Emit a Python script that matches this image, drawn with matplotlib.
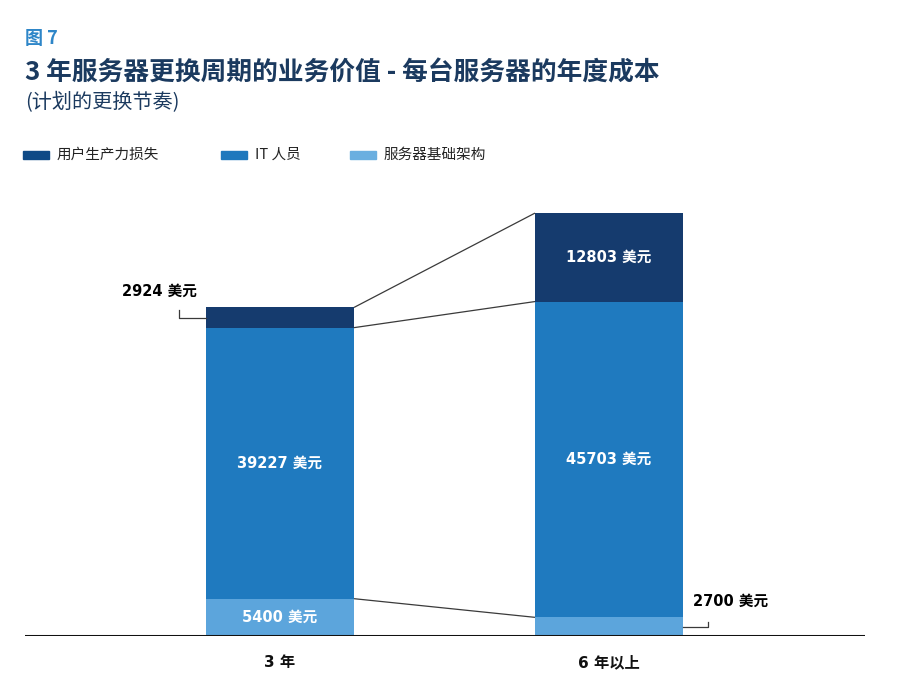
import matplotlib
matplotlib.use("Agg")
import matplotlib.pyplot as plt
from matplotlib.patches import Rectangle

plt.rcParams['font.family'] = ['Noto Sans CJK SC', 'DejaVu Sans']

# ---- data ----
categories = ["3 年", "6 年以上"]
infra = [5400, 2700]            # 服务器基础架构
it_staff = [39227, 45703]       # IT 人员
productivity = [2924, 12803]    # 用户生产力损失
legend_labels = ["用户生产力损失", "IT 人员", "服务器基础架构"]
unit = "美元"

# ---- style ----
c_dark = "#153b6e"
c_mid = "#1f7abf"
c_light = "#5ca5dc"
leg_dark = "#0f4a86"
leg_mid = "#1f78bd"
leg_light = "#6aafe0"
title_color = "#1b3a5f"
num_font = ['DejaVu Sans', 'Noto Sans CJK SC']

W, H = 900, 691
fig = plt.figure(figsize=(W / 100, H / 100), dpi=100)
ax_l, ax_r, ax_b, ax_t = 25, 865, 636, 200
ax = fig.add_axes([ax_l / W, 1 - ax_b / H, (ax_r - ax_l) / W, (ax_b - ax_t) / H])
xlim = (-0.775, 1.778)
ylim = (0, 63100)
ax.set_xlim(*xlim)
ax.set_ylim(*ylim)
for s in ax.spines.values():
    s.set_visible(False)
ax.set_xticks([])
ax.set_yticks([])

px_x = (xlim[1] - xlim[0]) / (ax_r - ax_l)   # data units per pixel (x)
px_y = (ylim[1] - ylim[0]) / (ax_b - ax_t)   # data units per pixel (y)

x = [0, 1]
bw = 0.45
ax.bar(x, infra, width=bw, color=c_light, linewidth=0)
ax.bar(x, it_staff, width=bw, bottom=infra, color=c_mid, linewidth=0)
bottom3 = [a + b for a, b in zip(infra, it_staff)]
ax.bar(x, productivity, width=bw, bottom=bottom3, color=c_dark, linewidth=0)
tops = [a + b for a, b in zip(bottom3, productivity)]

# connector lines between bars
for ys in (infra, bottom3, tops):
    ax.plot([x[0] + bw / 2, x[1] - bw / 2], [ys[0], ys[1]], color="#3a3a3a", lw=0.9,
            solid_capstyle="butt", zorder=1)

# baseline
ax.axhline(0, color="#111111", lw=2.2, zorder=3)

# labels inside bars
lab_kw = dict(ha="center", va="center", color="white", fontsize=10.5, fontweight="bold",
              family=num_font)
ax.text(x[0], infra[0] / 2, f"{infra[0]} {unit}", **lab_kw)
ax.text(x[0], infra[0] + it_staff[0] / 2, f"{it_staff[0]} {unit}", **lab_kw)
ax.text(x[1], infra[1] + it_staff[1] / 2, f"{it_staff[1]} {unit}", **lab_kw)
ax.text(x[1], bottom3[1] + productivity[1] / 2, f"{productivity[1]} {unit}", **lab_kw)

out_kw = dict(va="center", color="black", fontsize=10.5, fontweight="bold", family=num_font)

# outside label: 3-year productivity
ax0 = x[0] - bw / 2
ay0 = bottom3[0] + productivity[0] / 2
ax.plot([ax0, ax0 - 26.5 * px_x, ax0 - 26.5 * px_x],
        [ay0, ay0, ay0 + 8 * px_y], color="#3a3a3a", lw=0.9)
ax.text(ax0 - 9 * px_x, ay0 + 26 * px_y, f"{productivity[0]} {unit}", ha="right", **out_kw)

# outside label: 6-year infra
ax1 = x[1] + bw / 2
ay1 = infra[1] / 2
ax.plot([ax1, ax1 + 25 * px_x, ax1 + 25 * px_x],
        [ay1, ay1, ay1 + 5 * px_y], color="#3a3a3a", lw=0.9)
ax.text(ax1 + 10 * px_x, ay1 + 25 * px_y, f"{infra[1]} {unit}", ha="left", **out_kw)

# category labels
for xi, c in zip(x, categories):
    ax.text(xi, -27 * px_y, c, ha="center", va="center", fontsize=11,
            fontweight="bold", color="#111111", clip_on=False, family=num_font)

# titles
fig.text(25 / W, 1 - 39 / H, "图 7", ha="left", va="center", fontsize=13,
         fontweight="bold", color="#2e86c8")
fig.text(25 / W, 1 - 73 / H, "3 年服务器更换周期的业务价值 - 每台服务器的年度成本",
         ha="left", va="center", fontsize=18.5, fontweight="heavy", color=title_color)
fig.text(25 / W, 1 - 103 / H, "(计划的更换节奏)", ha="left", va="center", fontsize=14.5,
         color=title_color)

# legend
leg_cols = [leg_dark, leg_mid, leg_light]
leg_x = [23, 221, 350]
for lx, col, lab in zip(leg_x, leg_cols, legend_labels):
    fig.patches.append(Rectangle((lx / W, 1 - 159 / H), 26 / W, 8 / H,
                                 transform=fig.transFigure, color=col, figure=fig))
    fig.text((lx + 34) / W, 1 - 155 / H, lab, ha="left", va="center", fontsize=10.5,
             color="#222222")

fig.savefig("out.png", dpi=100)
